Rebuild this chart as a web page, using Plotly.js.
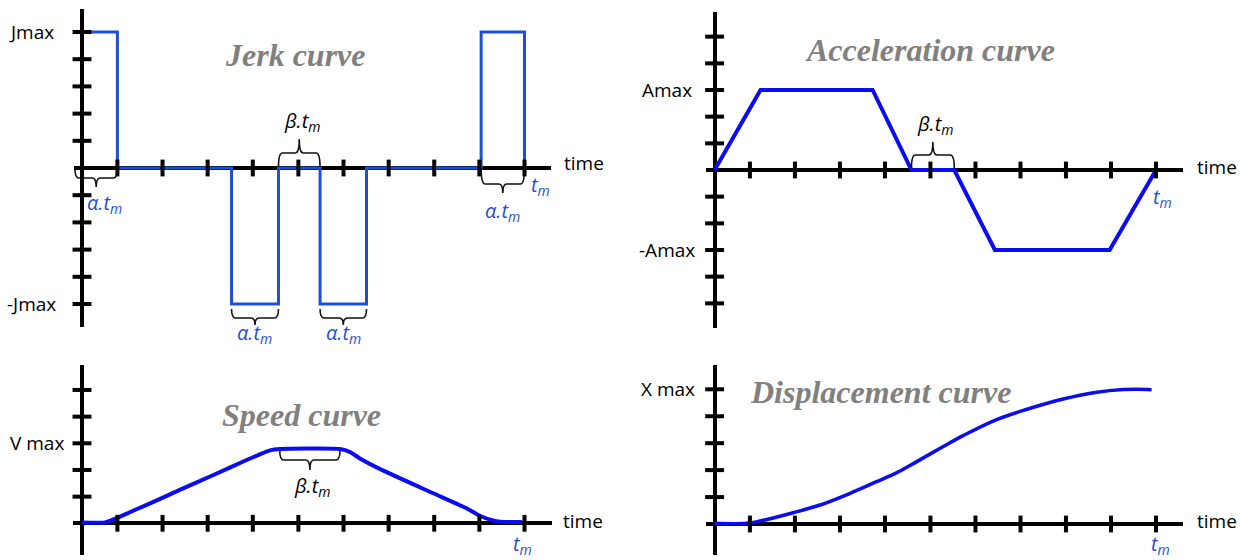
<!DOCTYPE html>
<html>
<head>
<meta charset="utf-8">
<script src="https://cdn.plot.ly/plotly-3.0.1.min.js"></script>
<style>html,body{margin:0;padding:0;background:#fff;}#chart{width:1246px;height:560px;}</style>
</head>
<body>
<div id="chart"></div>
<script>
// ---------------- DATA ----------------
const xTicks = [0.080, 0.182, 0.284, 0.386, 0.489, 0.591, 0.693, 0.796, 0.898, 1.0];

const jerkT = [0, 0.080, 0.338, 0.444, 0.538, 0.643, 0.902, 1.0];
const jerkV = [1, 0, -1, 0, -1, 0, 1, 0];
const jerkYTicks = [-1, -0.8, -0.6, -0.4, -0.2, 0.2, 0.4, 0.6, 0.8, 1];
const jerkYLabelVals = [1, -1];
const jerkYLabelText = ['Jmax', '-Jmax'];

const accT = [0, 0.104, 0.358, 0.446, 0.543, 0.635, 0.895, 1.0];
const accV = [0, 1, 1, 0, 0, -1, -1, 0];
const accYTicks = [-1.667, -1.333, -1, -0.667, -0.333, 0.333, 0.667, 1, 1.333, 1.667];
const accYLabelVals = [1, -1];
const accYLabelText = ['Amax', '-Amax'];

const spdT = [0, 0.052, 0.078, 0.108, 0.184, 0.221, 0.297, 0.372, 0.402, 0.425, 0.447, 0.583, 0.606, 0.628, 0.681, 0.794, 0.869, 0.899, 0.929, 0.945, 0.994];
const spdV = [0.01, 0.01, 0.063, 0.138, 0.324, 0.418, 0.604, 0.791, 0.862, 0.912, 0.929, 0.929, 0.89, 0.81, 0.658, 0.375, 0.188, 0.095, 0.035, 0.02, 0.016];
const spdYTicks = [0.333, 0.667, 1, 1.333, 1.667];
const spdYLabelVals = [1];
const spdYLabelText = ['V max'];

const dispT = [0, 0.073, 0.103, 0.178, 0.239, 0.307, 0.367, 0.413, 0.458, 0.511, 0.563, 0.639, 0.715, 0.79, 0.866, 0.926, 0.956, 0.99];
const dispV = [0.005, 0.005, 0.022, 0.084, 0.141, 0.228, 0.314, 0.381, 0.463, 0.562, 0.656, 0.775, 0.859, 0.928, 0.978, 0.998, 1.0, 0.997];
const dispYTicks = [0.2, 0.4, 0.6, 0.8, 1];
const dispYLabelVals = [1];
const dispYLabelText = ['X max'];

const titles = ['Jerk curve', 'Acceleration curve', 'Speed curve', 'Displacement curve'];

// ---------------- LAYOUT GEOMETRY ----------------
const W = 1246, H = 560;
const PANELS = {
  J: {ax: '', box: [73.5, 551, 9.3, 326.7], org: [82, 168], sx: 442.5, sy: 136},
  A: {ax: '2', box: [705.8, 1182.9, 11.7, 328.3], org: [714.6, 170], sx: 441.4, sy: 80},
  V: {ax: '3', box: [73, 551.6, 365, 555], org: [82, 523.3], sx: 442.5, sy: 80},
  X: {ax: '4', box: [705.8, 1182.9, 365, 555], org: [714.6, 524], sx: 441.4, sy: 134.7}
};
const BLUE_J = '#1f4ed6', BLUE = '#0c0cf0', LBL_BLUE = '#1f4ed6';

function px(p, t) { return PANELS[p].org[0] + t * PANELS[p].sx; }
function pxx(x) { return x / W; }
function pyy(y) { return 1 - y / H; }

const layout = {
  width: W, height: H,
  margin: {l: 0, r: 0, t: 0, b: 0},
  paper_bgcolor: '#fff', plot_bgcolor: 'rgba(0,0,0,0)',
  showlegend: false,
  annotations: [], shapes: []
};

Object.keys(PANELS).forEach(k => {
  const p = PANELS[k];
  const b = p.box;
  layout['xaxis' + p.ax] = {
    domain: [b[0] / W, b[1] / W],
    range: [(b[0] - p.org[0]) / p.sx, (b[1] - p.org[0]) / p.sx],
    showgrid: false, zeroline: true, zerolinecolor: '#000', zerolinewidth: 4,
    showticklabels: false, ticks: '', showline: false, fixedrange: true,
    anchor: 'y' + p.ax
  };
  layout['yaxis' + p.ax] = {
    domain: [1 - b[3] / H, 1 - b[2] / H],
    range: [(p.org[1] - b[3]) / p.sy, (p.org[1] - b[2]) / p.sy],
    showgrid: false, zeroline: true, zerolinecolor: '#000', zerolinewidth: 4,
    showticklabels: false, ticks: '', showline: false, fixedrange: true,
    anchor: 'x' + p.ax
  };
});

const traces = [];
function curve(p, x, y, color, width, shape, smooth) {
  traces.push({x: x, y: y, xaxis: 'x' + PANELS[p].ax, yaxis: 'y' + PANELS[p].ax,
    mode: 'lines', line: {color: color, width: width, shape: shape || 'linear', smoothing: smooth || 0.5},
    hoverinfo: 'skip'});
}
function tickMarks(p, yTicks) {
  const a = PANELS[p].ax;
  traces.push({x: xTicks, y: xTicks.map(() => 0), xaxis: 'x' + a, yaxis: 'y' + a, mode: 'markers',
    marker: {symbol: 'line-ns', size: 12, line: {width: 4, color: '#000'}}, hoverinfo: 'skip', cliponaxis: false});
  traces.push({x: yTicks.map(() => 0), y: yTicks, xaxis: 'x' + a, yaxis: 'y' + a, mode: 'markers',
    marker: {symbol: 'line-ew', size: 13.5, line: {width: 4, color: '#000'}}, hoverinfo: 'skip', cliponaxis: false});
}

curve('J', jerkT, jerkV, BLUE_J, 3, 'hv');
curve('A', accT, accV, BLUE, 4);
curve('V', spdT, spdV, BLUE, 4, 'spline', 0.5);
curve('X', dispT, dispV, BLUE, 3.5, 'spline', 1.0);
tickMarks('J', jerkYTicks);
tickMarks('A', accYTicks);
tickMarks('V', spdYTicks);
tickMarks('X', dispYTicks);

// ---------------- TEXT ----------------
const sans = {family: 'Open Sans, Noto Sans, sans-serif', size: 19, color: '#000'};
function yLabels(p, vals, texts, rightPx) {
  vals.forEach((v, i) => layout.annotations.push({
    xref: 'paper', yref: 'y' + PANELS[p].ax, x: pxx(rightPx[i]), y: v, xanchor: 'right', yanchor: 'middle',
    text: texts[i], showarrow: false, font: sans
  }));
}
yLabels('J', jerkYLabelVals, jerkYLabelText, [56, 58]);
yLabels('A', accYLabelVals, accYLabelText, [694, 697]);
yLabels('V', spdYLabelVals, spdYLabelText, [66]);
yLabels('X', dispYLabelVals, dispYLabelText, [697]);

function txt(xp, yp, text, font, xa) {
  layout.annotations.push({xref: 'paper', yref: 'paper', x: pxx(xp), y: pyy(yp), text: text,
    showarrow: false, font: font, xanchor: xa || 'center', yanchor: 'middle'});
}
// "time" labels
[['J', 562, 163], ['A', 1195, 167], ['V', 561, 521], ['X', 1195, 521]].forEach(d => txt(d[1], d[2], 'time', sans, 'left'));

// titles
const titleFont = {family: 'Liberation Serif, serif', size: 32, color: '#808080'};
txt(295, 55, '<b><i>' + titles[0] + '</i></b>', titleFont);
txt(930, 50, '<b><i>' + titles[1] + '</i></b>', titleFont);
txt(301, 415, '<b><i>' + titles[2] + '</i></b>', titleFont);
txt(880, 392, '<b><i>' + titles[3] + '</i></b>', titleFont);

const itBlue = {family: 'Open Sans, Noto Sans, sans-serif', size: 20, color: LBL_BLUE};
const itBlack = {family: 'Open Sans, Noto Sans, sans-serif', size: 20, color: '#000'};
const ALPHA = '<i>α.t<sub>m</sub></i>', BETA = '<i>β.t<sub>m</sub></i>', TM = '<i>t<sub>m</sub></i>';

// braces
function brace(X0, X1, Y0, Yb, Yt) {
  const Xm = (X0 + X1) / 2, r = 4;
  const P = (x, y) => pxx(x).toFixed(5) + ',' + pyy(y).toFixed(5);
  const path = 'M' + P(X0, Y0) + ' Q' + P(X0, Yb) + ' ' + P(X0 + r, Yb) + ' L' + P(Xm - r, Yb) +
    ' Q' + P(Xm, Yb) + ' ' + P(Xm, Yt) + ' Q' + P(Xm, Yb) + ' ' + P(Xm + r, Yb) + ' L' + P(X1 - r, Yb) +
    ' Q' + P(X1, Yb) + ' ' + P(X1, Y0);
  layout.shapes.push({type: 'path', xref: 'paper', yref: 'paper', path: path, line: {color: '#111', width: 1.6}});
  return Xm;
}
let m;
m = brace(px('J', jerkT[0]) - 7, px('J', jerkT[1]), 169, 178, 187); txt(m + 8, 203, ALPHA, itBlue);
m = brace(px('J', jerkT[2]), px('J', jerkT[3]), 309, 318, 325); txt(m - 1, 333, ALPHA, itBlue);
m = brace(px('J', jerkT[4]), px('J', jerkT[5]), 309, 318, 325); txt(m, 333, ALPHA, itBlue);
m = brace(px('J', jerkT[3]), px('J', jerkT[4]), 167, 153, 139); txt(m + 3, 121, BETA, itBlack);
m = brace(px('J', jerkT[6]), px('J', jerkT[7]), 168, 184, 193); txt(m, 211, ALPHA, itBlue);
m = brace(px('A', accT[3]), px('A', accT[4]), 168, 155, 142); txt(m + 2, 125, BETA, itBlack);
m = brace(px('V', spdT[10]), px('V', spdT[11]), 451, 460, 470); txt(m + 2, 486, BETA, itBlack);

// t_m labels
txt(540, 186, TM, itBlue);
txt(1162, 197, TM, itBlue);
txt(522, 544, TM, itBlue);
txt(1160, 544, TM, itBlue);

Plotly.newPlot('chart', traces, layout, {staticPlot: true, displayModeBar: false});
</script>
</body>
</html>
